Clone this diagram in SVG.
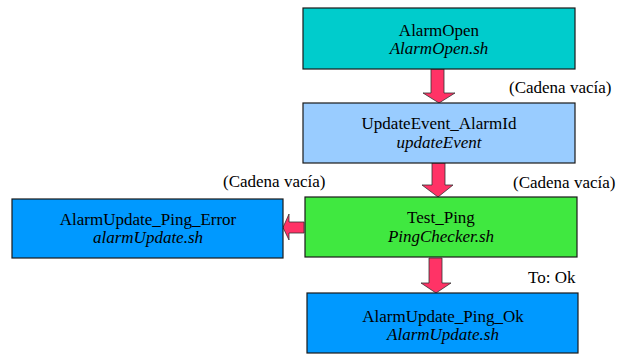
<svg xmlns="http://www.w3.org/2000/svg" width="618" height="354" viewBox="0 0 618 354">
<style>
.box{stroke:#1a1a1a;stroke-width:1.2}
.arr{fill:#FF3366;stroke:#333;stroke-width:0.8}
text{font-family:'Liberation Serif','Times New Roman',serif;font-size:17px;fill:#000}
.t{text-anchor:middle}
.i{font-style:italic}
</style>
<rect width="618" height="354" fill="#fff"/>
<g id="connectors">
<polygon class="arr" points="431,69 444,69 444,93 455,93 439,103 423,93 431,93"/>
<polygon class="arr" points="432,163 445,163 445,185 453,185 438,197 422,185 432,185"/>
<polygon class="arr" points="429,258 442,258 442,283 451,283 436,293 421,283 429,283"/>
<polygon class="arr" points="304,222 304,233 289,233 289,240 283,227.5 289,214 289,222"/>
</g>
<g id="AlarmOpen">
<rect class="box" x="303" y="8" width="272" height="61" fill="#00CCCC"/>
<text class="t" x="439" y="36">AlarmOpen</text>
<text class="t i" x="439" y="54">AlarmOpen.sh</text>
</g>
<g id="UpdateEvent_AlarmId">
<rect class="box" x="303" y="103" width="272" height="60" fill="#99CCFF"/>
<text class="t" x="439" y="129">UpdateEvent_AlarmId</text>
<text class="t i" x="439" y="148">updateEvent</text>
</g>
<g id="Test_Ping">
<rect class="box" x="305" y="197" width="272" height="60" fill="#40E840"/>
<text class="t" x="441" y="223">Test_Ping</text>
<text class="t i" x="441" y="242">PingChecker.sh</text>
</g>
<g id="AlarmUpdate_Ping_Error">
<rect class="box" x="12" y="199" width="271" height="59" fill="#0099FF"/>
<text class="t" x="148" y="225">AlarmUpdate_Ping_Error</text>
<text class="t i" x="148" y="243">alarmUpdate.sh</text>
</g>
<g id="AlarmUpdate_Ping_Ok">
<rect class="box" x="307" y="293" width="271" height="60" fill="#0099FF"/>
<text class="t" x="443" y="322">AlarmUpdate_Ping_Ok</text>
<text class="t i" x="443" y="340">AlarmUpdate.sh</text>
</g>
<g id="labels">
<text x="509" y="93">(Cadena vacía)</text>
<text x="223" y="187">(Cadena vacía)</text>
<text x="513" y="188">(Cadena vacía)</text>
<text x="528" y="283">To: Ok</text>
</g>
</svg>
